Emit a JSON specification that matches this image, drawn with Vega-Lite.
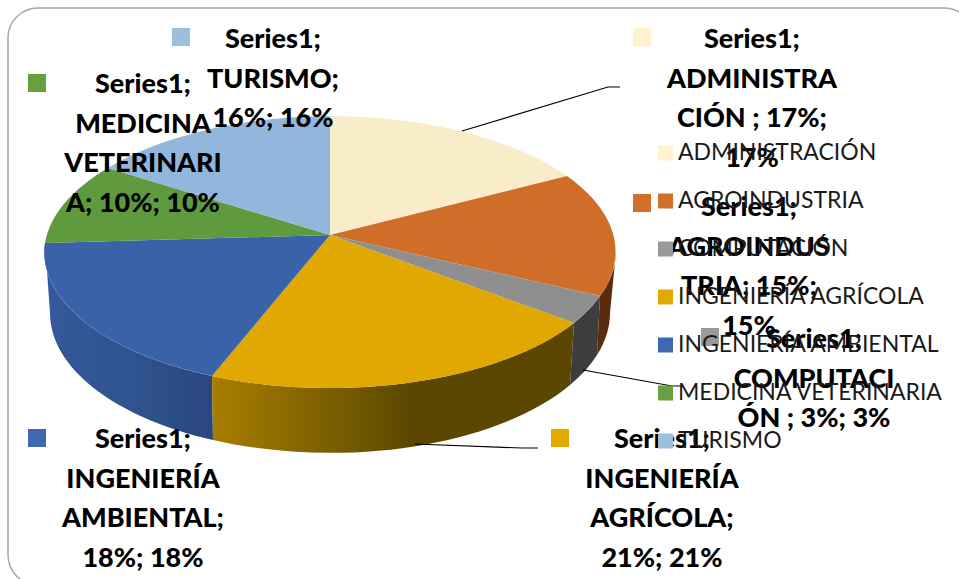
{
"$schema":"https://vega.github.io/schema/vega-lite/v6.json",
"width":959,"height":579,"padding":0,"autosize":{"type":"none"},
"background":"white","view":{"stroke":null},
"data":{"values":[
{"category":"ADMINISTRACIÓN","share":17,"label":"Series1;\nADMINISTRA\nCIÓN ; 17%;\n17%"},
{"category":"AGROINDUSTRIA","share":15,"label":"Series1;\nAGROINDUS\nTRIA; 15%;\n15%"},
{"category":"COMPUTACIÓN","share":3,"label":"Series1;\nCOMPUTACI\nÓN ; 3%; 3%"},
{"category":"INGENIERÍA AGRÍCOLA","share":21,"label":"Series1;\nINGENIERÍA\nAGRÍCOLA;\n21%; 21%"},
{"category":"INGENIERÍA AMBIENTAL","share":18,"label":"Series1;\nINGENIERÍA\nAMBIENTAL;\n18%; 18%"},
{"category":"MEDICINA VETERINARIA","share":10,"label":"Series1;\nMEDICINA\nVETERINARI\nA; 10%; 10%"},
{"category":"TURISMO","share":16,"label":"Series1;\nTURISMO;\n16%; 16%"}
]},
"layer":[
{"layer":[
{"transform":[{"filter":"datum.share===17"}],
 "mark":{"type":"point","filled":false,"fill":"white","stroke":"#a6a6a6","strokeWidth":1.5,"opacity":1,"shape":"M38,8 H944 A30,30 0 0 1 974,38 V555 A30,30 0 0 1 944,585 H38 A30,30 0 0 1 8,555 V38 A30,30 0 0 1 38,8 Z"}},
{"transform":[{"filter":"datum.share===18"}],
 "mark":{"type":"point","filled":true,"opacity":1,"strokeWidth":0,"shape":"M45,243 A286,136 0 0 0 212,376 L213,440 A280,140 0 0 1 50,313 Z",
 "fill":{"gradient":"linear","x1":0,"y1":0,"x2":1,"y2":0,"stops":[{"offset":0,"color":"#35599a"},{"offset":0.5,"color":"#30548f"},{"offset":1,"color":"#2a4680"}]}}},
{"transform":[{"filter":"datum.share===21"}],
 "mark":{"type":"point","filled":true,"opacity":1,"strokeWidth":0,"shape":"M212,376 A286,136 0 0 0 574,323 L570,385 A280,140 0 0 1 213,440 Z",
 "fill":{"gradient":"linear","x1":0,"y1":0,"x2":1,"y2":0,"stops":[{"offset":0,"color":"#a87e00"},{"offset":0.33,"color":"#7a5e00"},{"offset":0.55,"color":"#5c4700"},{"offset":1,"color":"#5c4700"}]}}},
{"transform":[{"filter":"datum.share===3"}],
 "mark":{"type":"point","filled":true,"opacity":1,"strokeWidth":0,"fill":"#3d3d3d","shape":"M574,323 A286,136 0 0 0 600,296 L597,355 A280,140 0 0 1 570,385 Z"}},
{"transform":[{"filter":"datum.share===15"}],
 "mark":{"type":"point","filled":true,"opacity":1,"strokeWidth":0,"fill":"#5a2c0e","shape":"M600,296 A286,136 0 0 0 616,252 L610,313 A280,140 0 0 1 597,355 Z"}},
{"mark":{"type":"point","filled":true,"opacity":1,"strokeWidth":0},
 "encoding":{
  "shape":{"field":"category","type":"nominal","legend":null,"scale":{"domain":["ADMINISTRACIÓN","AGROINDUSTRIA","COMPUTACIÓN","INGENIERÍA AGRÍCOLA","INGENIERÍA AMBIENTAL","MEDICINA VETERINARIA","TURISMO"],"range":[
   "M330,235 L330,116 A286,136 0 0 1 567,176 Z",
   "M330,235 L567,176 A286,136 0 0 1 600,296 Z",
   "M330,235 L600,296 A286,136 0 0 1 574,323 Z",
   "M330,235 L574,323 A286,136 0 0 1 212,376 Z",
   "M330,235 L212,376 A286,136 0 0 1 45,243 Z",
   "M330,235 L45,243 A286,136 0 0 1 108,168 Z",
   "M330,235 L108,168 A286,136 0 0 1 330,116 Z"]}},
  "color":{"field":"category","type":"nominal","legend":null,"scale":{"domain":["ADMINISTRACIÓN","AGROINDUSTRIA","COMPUTACIÓN","INGENIERÍA AGRÍCOLA","INGENIERÍA AMBIENTAL","MEDICINA VETERINARIA","TURISMO"],"range":["#f9edc9","#cf6d29","#8f8f8f","#e0a800","#3a62a9","#5f9a3f","#93b6dd"]}}
 }},
{"transform":[{"filter":"datum.share===17||datum.share===3||datum.share===21"}],
 "mark":{"type":"point","filled":false,"opacity":1,"stroke":"#000000","strokeWidth":1.2},
 "encoding":{"shape":{"field":"share","type":"nominal","legend":null,"scale":{"domain":[17,3,21],"range":["M462,131 L608,87 H620","M583,370 L672,386 H683","M415,444 L522,448 H538"]}}}}
],
"encoding":{
"x":{"datum":0,"scale":{"domain":[0,959],"range":[0,959]},"axis":null},
"y":{"datum":0,"scale":{"domain":[0,579],"range":[0,579]},"axis":null},
"size":{"value":4}
},
"resolve":{"scale":{"shape":"independent","color":"independent"}}
},
{"mark":{"type":"square","opacity":1,"strokeWidth":0},
 "encoding":{
  "x":{"field":"share","type":"quantitative","axis":null,"scale":{"type":"linear","domain":[3,10,15,16,17,18,21],"range":[710,37,642,181,642,37,560],"zero":false,"nice":false,"clamp":false}},
  "y":{"field":"share","type":"quantitative","axis":null,"scale":{"type":"linear","domain":[3,10,15,16,17,18,21],"range":[337,83,203,37,37,438,438],"zero":false,"nice":false}},
  "size":{"value":324},
  "color":{"field":"category","type":"nominal","scale":{"domain":["ADMINISTRACIÓN","AGROINDUSTRIA","COMPUTACIÓN","INGENIERÍA AGRÍCOLA","INGENIERÍA AMBIENTAL","MEDICINA VETERINARIA","TURISMO"],"range":["#fff2cc","#d26f2b","#999999","#e2aa00","#4068b0","#68a040","#9ebee0"]},
   "legend":{"title":null,"orient":"none","legendX":654,"legendY":141,"padding":0,"symbolType":"square","symbolSize":225,"symbolStrokeWidth":0,"labelFont":"Lato","labelFontSize":23,"labelColor":"#1a1a1a","labelOffset":1,"rowPadding":24,"clipHeight":24,"labelLimit":300}}
 }},
{"mark":{"type":"text","font":"Lato","fontWeight":900,"lineHeight":39.5,"lineBreak":"\n","align":"center","baseline":"alphabetic","color":"#000000","fontSize":27},
 "encoding":{
  "x":{"field":"share","type":"quantitative","axis":null,"scale":{"type":"linear","domain":[3,10,15,16,17,18,21],"range":[814,143,749,273,752,143,662],"zero":false,"nice":false}},
  "y":{"field":"share","type":"quantitative","axis":null,"scale":{"type":"linear","domain":[3,10,15,16,17,18,21],"range":[348,93,216,48,48,448,448],"zero":false,"nice":false}},
  "text":{"field":"label","type":"nominal"}
 }}
],
"resolve":{"scale":{"x":"independent","y":"independent","color":"independent"}}
}
